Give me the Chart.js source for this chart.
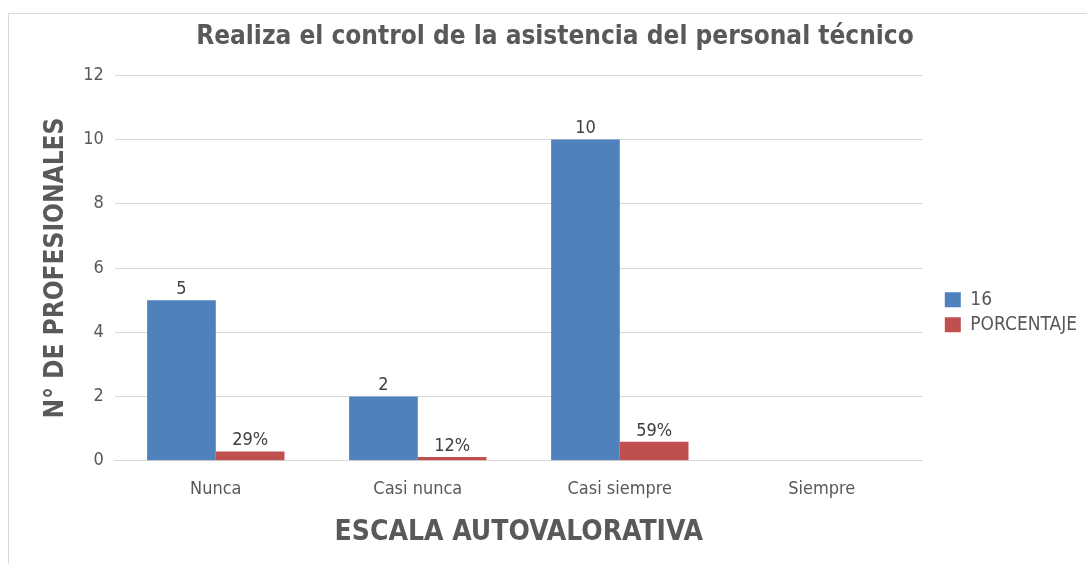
<!DOCTYPE html>
<html>
<head>
<meta charset="utf-8">
<script src="https://cdn.jsdelivr.net/npm/chart.js@4"></script>
<style>
  html, body { margin: 0; padding: 0; background: #fff; overflow: hidden; }
  #frame {
    position: absolute; left: 8px; top: 13px;
    width: 1100px; height: 570px;
    border: 1px solid #d9d9d9;
  }
  #wrap { position: absolute; left: 0; top: 0; width: 1078px; height: 550px; }
</style>
</head>
<body>
<div id="frame">
  <div id="wrap"><canvas id="chart"></canvas></div>
</div>
<script>
// Chart data
const categories = ['Nunca', 'Casi nunca', 'Casi siempre', 'Siempre'];
const countValues = [5, 2, 10, null];
const percentValues = [0.29, 0.12, 0.59, null];
const yTicks = [0, 2, 4, 6, 8, 10, 12];

const FONT = "'Liberation Sans Narrow', 'DejaVu Sans Condensed', 'Liberation Sans', sans-serif";
const GREY = '#595959';

// draws the value labels above each bar
const barLabels = {
    id: 'barLabels',
    afterDatasetsDraw(chart) {
        const ctx = chart.ctx;
        ctx.save();
        ctx.font = '18px ' + FONT;
        ctx.fillStyle = '#404040';
        ctx.textAlign = 'center';
        ctx.textBaseline = 'bottom';
        chart.data.datasets.forEach((ds, i) => {
            const meta = chart.getDatasetMeta(i);
            meta.data.forEach((bar, j) => {
                const v = ds.data[j];
                if (v === null || v === undefined) return;
                const text = i === 1 ? Math.round(v * 100) + '%' : String(v);
                ctx.fillText(text, bar.x, bar.y - 2);
            });
        });
        ctx.restore();
    }
};

const ctx = document.getElementById('chart');
new Chart(ctx, {
    type: 'bar',
    data: {
        labels: categories,
        datasets: [{
            label: '16',
            data: countValues,
            backgroundColor: '#4f81bd',
            categoryPercentage: 0.68,
            barPercentage: 1
        }, {
            label: 'PORCENTAJE',
            data: percentValues,
            backgroundColor: '#c0504d',
            categoryPercentage: 0.68,
            barPercentage: 1
        }]
    },
    options: {
        responsive: true,
        maintainAspectRatio: false,
        animation: false,
        layout: {
            padding: { top: 8, right: 0, left: 14, bottom: 14 }
        },
        plugins: {
            title: {
                display: true,
                text: 'Realiza el control de la asistencia del personal técnico',
                color: GREY,
                font: { family: FONT, size: 26, weight: 'bold' },
                padding: { top: 0, bottom: 22 }
            },
            legend: {
                position: 'right',
                align: 'center',
                title: { display: true, text: '', padding: { top: 38 } },
                labels: {
                    color: GREY,
                    font: { family: FONT, size: 19 },
                    boxWidth: 16,
                    boxHeight: 15,
                    padding: 6
                }
            },
            tooltip: { enabled: false }
        },
        scales: {
            x: {
                grid: { display: false },
                border: { color: '#d9d9d9' },
                ticks: {
                    color: GREY,
                    font: { family: FONT, size: 18 },
                    padding: 10
                },
                title: {
                    display: true,
                    text: 'ESCALA AUTOVALORATIVA',
                    color: GREY,
                    font: { family: FONT, size: 28, weight: 'bold' },
                    padding: { top: 6, bottom: 0 }
                }
            },
            y: {
                min: 0,
                max: 12,
                afterBuildTicks(axis) {
                    axis.ticks = yTicks.map(v => ({ value: v }));
                },
                grid: { color: '#d9d9d9', drawTicks: false },
                border: { display: false },
                ticks: {
                    color: GREY,
                    font: { family: FONT, size: 18 },
                    padding: 11
                },
                title: {
                    display: true,
                    text: 'N° DE PROFESIONALES',
                    color: GREY,
                    font: { family: FONT, size: 26, weight: 'bold' },
                    padding: { top: 18, bottom: 0 }
                }
            },
            // empty axis, only keeps a gap between the plot and the legend
            gap: {
                type: 'linear',
                position: 'right',
                display: true,
                grid: { display: false },
                border: { display: false },
                ticks: { display: false },
                afterFit(axis) {
                    axis.width = 16;
                }
            }
        }
    },
    plugins: [barLabels]
});
</script>
</body>
</html>
